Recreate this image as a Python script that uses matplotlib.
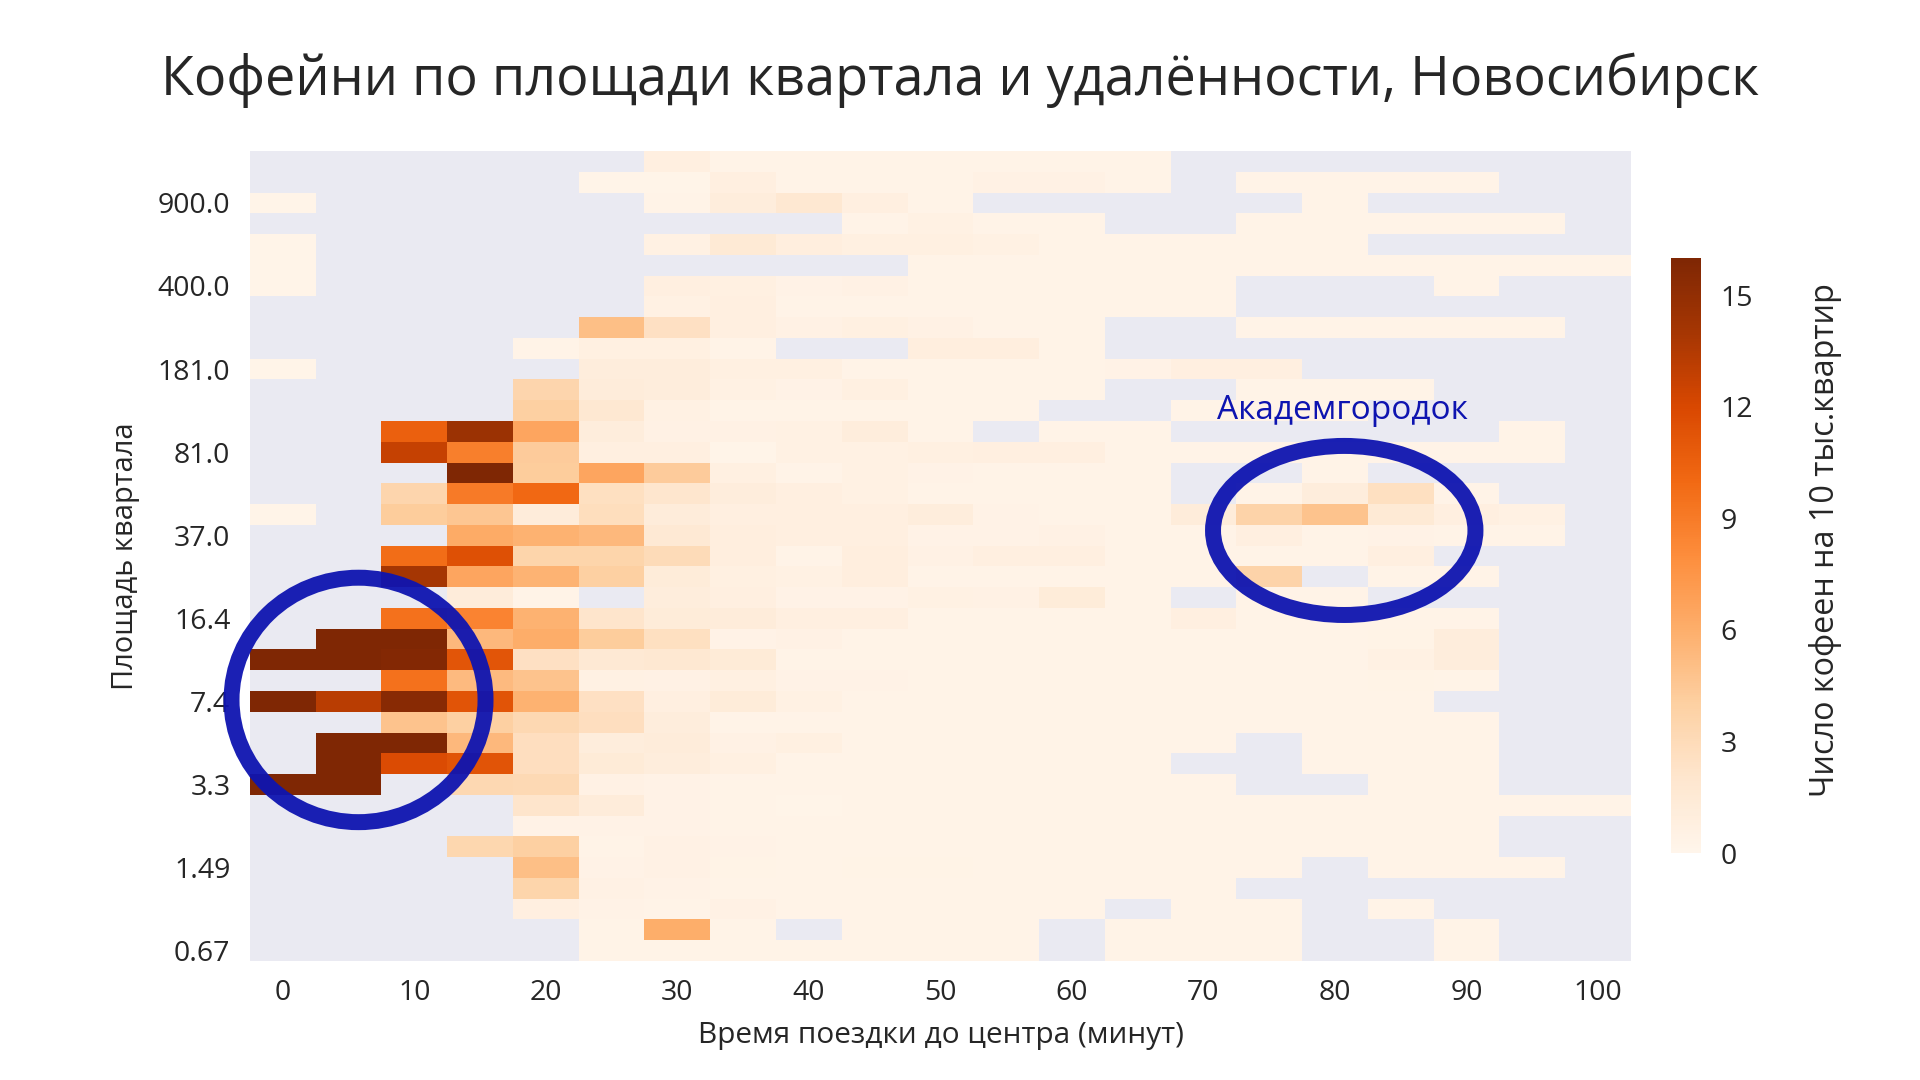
import numpy as np
import matplotlib
matplotlib.use("Agg")
import matplotlib.pyplot as plt
from matplotlib.patches import Ellipse

N = np.nan

# Columns: travel time to centre (5-minute bins)
travel_minutes = list(range(0, 105, 5))
# Row labels shown on the y axis (every 4th area bin, top to bottom)
area_tick_labels = ["900.0", "400.0", "181.0", "81.0", "37.0",
                    "16.4", "7.4", "3.3", "1.49", "0.67"]
area_tick_rows = [2, 6, 10, 14, 18, 22, 26, 30, 34, 38]

# Coffee shops per 10k apartments; rows = block-area bins from largest (top) to smallest (bottom)
density = [
    [N, N, N, N, N, N, 0.8, 0.3, 0.3, 0.3, 0.3, 0.3, 0.3, 0.3, N, N, N, N, N, N, N],
    [N, N, N, N, N, 0.2, 0.2, 0.8, 0.3, 0.3, 0.3, 0.5, 0.5, 0.3, N, 0.3, 0.3, 0.3, 0.3, N, N],
    [0.2, N, N, N, N, N, 0.3, 1.0, 1.8, 0.8, 0.3, N, N, N, N, N, 0.3, N, N, N, N],
    [N, N, N, N, N, N, N, N, N, 0.3, 0.6, 0.3, 0.3, N, N, 0.3, 0.3, 0.3, 0.3, 0.3, N],
    [0.2, N, N, N, N, N, 0.6, 1.5, 0.9, 0.7, 0.7, 0.6, 0.3, 0.3, 0.3, 0.3, 0.3, N, N, N, N],
    [0.2, N, N, N, N, N, N, N, N, N, 0.3, 0.3, 0.3, 0.3, 0.3, 0.3, 0.3, 0.3, 0.3, 0.3, 0.3],
    [0.2, N, N, N, N, N, 0.8, 0.7, 0.4, 0.5, 0.3, 0.3, 0.3, 0.3, 0.3, N, N, N, 0.3, N, N],
    [N, N, N, N, N, N, 0.6, 0.8, 0.3, 0.3, 0.3, 0.3, 0.3, 0.3, 0.3, N, N, N, N, N, N],
    [N, N, N, N, N, 5.0, 2.5, 0.8, 0.5, 0.7, 0.5, 0.3, 0.3, N, N, 0.3, 0.3, 0.3, 0.3, 0.3, N],
    [N, N, N, N, 0.3, 0.7, 0.7, 0.3, N, N, 0.9, 0.9, 0.3, N, N, N, N, N, N, N, N],
    [0.2, N, N, N, N, 1.0, 1.0, 0.7, 0.7, 0.3, 0.3, 0.3, 0.3, 0.4, 0.8, 0.8, N, N, N, N, N],
    [N, N, N, N, 3.5, 1.2, 1.0, 0.6, 0.4, 0.7, 0.3, 0.3, 0.3, N, N, 0.3, 0.3, 0.3, N, N, N],
    [N, N, N, N, 4.0, 1.8, 0.6, 0.3, 0.3, 0.3, 0.3, 0.3, N, N, 0.3, 0.3, 0.3, N, N, N, N],
    [N, N, 10.5, 14.5, 6.5, 1.0, 0.5, 0.5, 0.6, 1.0, 0.3, N, 0.3, 0.3, N, N, N, N, N, 0.3, N],
    [N, N, 12.8, 8.8, 4.3, 0.8, 0.8, 0.2, 0.6, 0.6, 0.7, 0.8, 0.8, 0.3, 0.3, 0.3, 0.3, 0.3, 0.3, 0.3, N],
    [N, N, N, 16.0, 4.2, 6.5, 4.3, 0.7, 0.3, 0.6, 0.4, 0.3, 0.3, 0.3, N, N, 0.3, N, N, N, N],
    [N, N, 3.5, 9.0, 10.0, 2.6, 2.0, 1.1, 0.8, 0.6, 0.3, 0.3, 0.3, 0.3, N, 0.3, 1.0, 2.6, 0.3, N, N],
    [0.2, N, 4.2, 4.6, 1.2, 2.8, 1.2, 0.8, 0.8, 0.8, 1.1, 0.4, 0.3, 0.3, 1.2, 3.7, 4.8, 1.5, 0.8, 0.6, N],
    [N, N, N, 6.2, 5.8, 5.4, 1.6, 0.9, 0.8, 0.8, 0.4, 0.4, 0.5, 0.3, 0.3, 0.8, 0.3, 0.4, 0.3, 0.3, N],
    [N, N, 9.8, 11.5, 3.6, 3.6, 3.0, 0.9, 0.3, 0.9, 0.5, 0.8, 0.8, 0.3, 0.3, 0.3, 0.3, 0.8, N, N, N],
    [N, N, 14.0, 6.5, 5.7, 4.0, 1.3, 0.7, 0.6, 0.9, 0.3, 0.3, 0.3, 0.3, 0.3, 3.7, N, 0.3, 0.3, N, N],
    [N, N, N, 1.2, 0.3, N, 1.0, 0.8, 0.4, 0.4, 0.6, 0.5, 1.3, 0.3, N, 0.3, 0.3, N, N, N, N],
    [N, N, 9.5, 8.5, 5.8, 2.1, 1.3, 1.2, 0.8, 0.8, 0.3, 0.3, 0.3, 0.3, 0.8, 0.3, 0.3, 0.3, 0.3, N, N],
    [N, 16.0, 16.0, 5.4, 6.1, 4.2, 2.6, 0.4, 0.5, 0.3, 0.3, 0.3, 0.3, 0.3, 0.3, 0.3, 0.3, 0.35, 1.0, N, N],
    [16.0, 16.0, 15.8, 11.2, 2.5, 1.6, 1.8, 1.4, 0.3, 0.3, 0.3, 0.3, 0.3, 0.3, 0.3, 0.3, 0.3, 0.6, 1.0, N, N],
    [N, N, 9.5, 5.3, 4.8, 0.6, 0.5, 0.7, 0.4, 0.4, 0.3, 0.3, 0.3, 0.3, 0.3, 0.3, 0.3, 0.35, 0.3, N, N],
    [16.0, 13.2, 15.5, 11.3, 5.8, 2.5, 0.8, 1.3, 0.6, 0.3, 0.3, 0.3, 0.3, 0.3, 0.3, 0.3, 0.3, 0.3, N, N, N],
    [N, N, 4.8, 4.0, 3.3, 2.7, 1.0, 0.3, 0.3, 0.3, 0.3, 0.3, 0.3, 0.3, 0.3, 0.3, 0.3, 0.3, 0.3, N, N],
    [N, 16.0, 16.0, 5.4, 2.7, 1.0, 1.2, 0.5, 0.7, 0.3, 0.3, 0.3, 0.3, 0.3, 0.3, N, 0.3, 0.3, 0.3, N, N],
    [N, 16.0, 11.8, 11.3, 2.7, 1.4, 1.0, 0.7, 0.3, 0.3, 0.3, 0.3, 0.3, 0.3, N, N, 0.3, 0.3, 0.3, N, N],
    [16.0, 16.0, N, 3.3, 3.2, 0.5, 0.4, 0.3, 0.3, 0.3, 0.3, 0.3, 0.3, 0.3, 0.3, N, N, 0.3, 0.3, N, N],
    [N, N, N, N, 2.1, 1.2, 0.4, 0.3, 0.2, 0.3, 0.3, 0.3, 0.3, 0.3, 0.3, 0.3, 0.3, 0.3, 0.3, 0.3, 0.3],
    [N, N, N, N, 0.4, 0.4, 0.4, 0.3, 0.3, 0.3, 0.3, 0.3, 0.3, 0.3, 0.3, 0.3, 0.3, 0.3, 0.3, N, N],
    [N, N, N, 3.4, 4.0, 0.3, 0.5, 0.4, 0.3, 0.3, 0.3, 0.3, 0.3, 0.3, 0.3, 0.3, 0.3, 0.3, 0.3, N, N],
    [N, N, N, N, 5.0, 0.4, 0.5, 0.35, 0.3, 0.35, 0.35, 0.3, 0.3, 0.3, 0.3, 0.3, N, 0.3, 0.3, 0.3, N],
    [N, N, N, N, 3.6, 0.5, 0.4, 0.3, 0.3, 0.3, 0.3, 0.3, 0.3, 0.3, 0.3, N, N, N, N, N, N],
    [N, N, N, N, 0.8, 0.4, 0.3, 0.5, 0.3, 0.3, 0.3, 0.3, 0.3, N, 0.3, 0.3, N, 0.3, N, N, N],
    [N, N, N, N, N, 0.3, 6.0, 0.3, N, 0.3, 0.3, 0.3, N, 0.3, 0.3, 0.3, N, N, 0.3, N, N],
    [N, N, N, N, N, 0.3, 0.3, 0.3, 0.3, 0.3, 0.3, 0.3, N, 0.3, 0.3, 0.3, N, N, 0.3, N, N],
]

title = "Кофейни по площади квартала и удалённости, Новосибирск"
xlabel = "Время поездки до центра (минут)"
ylabel = "Площадь квартала"
cbar_label = "Число кофеен на 10 тыс.квартир"
cbar_ticks = [0, 3, 6, 9, 12, 15]
annotation = "Академгородок"

plt.rcParams["font.family"] = ["Open Sans", "DejaVu Sans"]
TXT = "#262626"
BLUE = "#0e14b0"

W, H = 1920, 1080
fig = plt.figure(figsize=(19.2, 10.8), dpi=100)
fig.patch.set_facecolor("white")

ax_l, ax_r, ax_t, ax_b = 249.8, 1631.0, 151.0, 961.0
ax = fig.add_axes([ax_l / W, 1 - ax_b / H, (ax_r - ax_l) / W, (ax_b - ax_t) / H])
ax.set_facecolor("#EAEAF2")

data = np.ma.masked_invalid(np.array(density, dtype=float))
nrows, ncols = data.shape
mesh = ax.pcolormesh(np.arange(ncols + 1), np.arange(nrows + 1), data,
                     cmap="Oranges", vmin=0, vmax=16)
ax.set_xlim(0, ncols)
ax.set_ylim(nrows, 0)
for s in ax.spines.values():
    s.set_visible(False)

xt = [i for i, m in enumerate(travel_minutes) if m % 10 == 0]
ax.set_xticks([i + 0.5 for i in xt])
ax.set_xticklabels([str(travel_minutes[i]) for i in xt])
ax.set_yticks([r + 0.5 for r in area_tick_rows])
ax.set_yticklabels(area_tick_labels)
ax.tick_params(axis="both", length=0, labelsize=20.5, colors=TXT)
ax.tick_params(axis="x", pad=13)
ax.tick_params(axis="y", pad=14)

# Highlight ellipses
ax.add_patch(Ellipse((1.653, 26.43), 3.862, 11.77, fill=False, clip_on=False,
                     edgecolor=BLUE, linewidth=11.5, alpha=0.95, zorder=5))
ax.add_patch(Ellipse((16.64, 18.27), 3.99, 8.14, fill=False, clip_on=False,
                     edgecolor=BLUE, linewidth=11.5, alpha=0.95, zorder=5))
ax.text(16.62, 12.9, annotation, color=BLUE, fontsize=24,
        ha="center", va="baseline", zorder=6)

# Colorbar
cax = fig.add_axes([1671 / W, 1 - 853 / H, 30 / W, 595 / H])
cb = fig.colorbar(mesh, cax=cax, ticks=cbar_ticks)
cb.outline.set_visible(False)
cax.tick_params(length=0, pad=14, labelsize=20.5, colors=TXT)

fig.text(1825 / W, 1 - 540 / H, cbar_label, rotation=90, fontsize=23.3,
         color=TXT, ha="center", va="center")
fig.text(0.5, 1 - 80 / H, title, fontsize=38.8, color=TXT, ha="center", va="center")
fig.text(941 / W, 1 - 1035 / H, xlabel, fontsize=21.4, color=TXT, ha="center", va="center")
fig.text(125 / W, 1 - 556 / H, ylabel, fontsize=20.9, color=TXT, rotation=90,
         ha="center", va="center")

fig.savefig("out.png", dpi=100)
